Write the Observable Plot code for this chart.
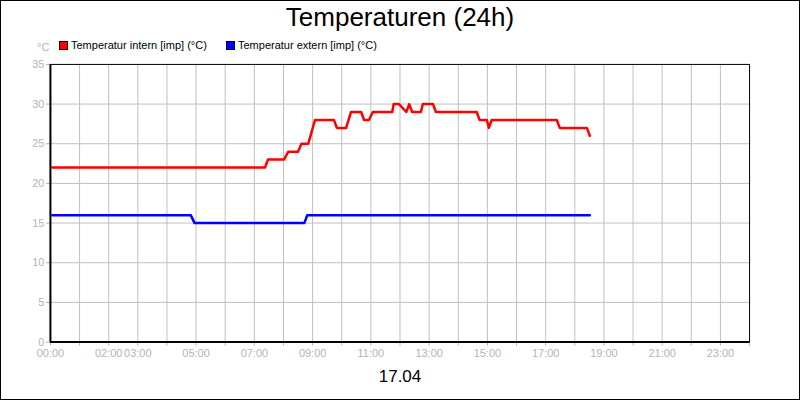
<!DOCTYPE html>
<html><head><meta charset="utf-8">
<script src="https://cdn.jsdelivr.net/npm/d3@7"></script>
<script src="https://cdn.jsdelivr.net/npm/@observablehq/plot@0.6"></script>
<style>
body{margin:0;background:#fff;font-family:"Liberation Sans",Arial,sans-serif}
#c{position:relative;width:800px;height:400px;box-sizing:border-box;border:1px solid #000;overflow:hidden;background:#fff}
#chart{position:absolute;left:-1px;top:-1px}
#title{position:absolute;left:0;top:0px;width:100%;text-align:center;font-size:26px;line-height:32px;color:#000}
#legend{position:absolute;left:0;top:36px;height:16px;width:100%;font-size:11px;line-height:16px;color:#000}
.sw{position:absolute;top:4px;width:7px;height:7px;border:1px solid #000}
.lt{position:absolute;top:0}
#unit{position:absolute;left:36px;top:40px;font-size:11px;color:#b4b4b4}
#date{position:absolute;left:0;width:100%;top:364px;text-align:center;font-size:17px;line-height:24px;color:#000}
</style></head>
<body>
<div id="c">
<div id="chart"></div>
<div id="title">Temperaturen (24h)</div>
<div id="unit">°C</div>
<div id="legend">
 <div class="sw" style="left:58px;background:#ff0000"></div><div class="lt" style="left:70px">Temperatur intern [imp] (°C)</div>
 <div class="sw" style="left:225px;background:#0000ff"></div><div class="lt" style="left:237px">Temperatur extern [imp] (°C)</div>
</div>
<div id="date">17.04</div>
</div>
<script>
const dayLabel = "17.04";
const internTimes = ["00:04","07:22","07:28","08:01","08:10","08:30","08:37","08:51","09:05","09:44","09:50","10:09","10:19","10:40","10:46","10:56","11:04","11:44","11:47","11:58","12:13","12:19","12:25","12:43","12:47","13:08","13:14","14:38","14:44","14:59","15:03","15:09","17:23","17:29","18:25","18:31"];
const internValues = [22,22,23,23,24,24,25,25,28,28,27,27,29,29,28,28,29,29,30,30,29,30,29,29,30,30,29,29,28,28,27,28,28,27,27,26];
const externTimes = ["00:04","04:49","04:57","08:43","08:49","18:31"];
const externValues = [16,16,15,15,16,16];
const yTicks = [0,5,10,15,20,25,30,35];
const xLabelHours = [0,2,3,5,7,9,11,13,15,17,19,21,23];

const t = s => { const [h,m] = s.split(":").map(Number); return new Date(Date.UTC(2024,3,17,h,m)); };
const intern = internTimes.map((s,i)=>({time:t(s), value:internValues[i]}));
const extern = externTimes.map((s,i)=>({time:t(s), value:externValues[i]}));
const x0 = t("00:00"), x1 = new Date(Date.UTC(2024,3,18,0,0));
const hourTicks = d3.utcHour.range(x0, d3.utcHour.offset(x1,1));
const fmt = d3.utcFormat("%H:%M");
const grey = "#b4b4b4";

const plot = Plot.plot({
  width: 800, height: 400,
  marginTop: 64, marginBottom: 58, marginLeft: 50, marginRight: 50,
  style: {background:"transparent", fontFamily:"Liberation Sans, Arial, sans-serif", fontSize:"11px"},
  x: {type:"utc", domain:[x0,x1]},
  y: {domain:[0,35]},
  marks: [
    Plot.ruleX(hourTicks.slice(1,-1), {stroke:"#c0c0c0", strokeWidth:1}),
    Plot.ruleY(yTicks.slice(1,-1), {stroke:"#c0c0c0", strokeWidth:1}),
    Plot.axisY({ticks:yTicks, tickSize:4, tickPadding:2, stroke:grey, color:grey, label:null}),
    Plot.axisX({ticks:hourTicks, tickSize:4, tickPadding:3, stroke:grey, color:grey, label:null,
      tickFormat: d => xLabelHours.includes(d.getUTCHours()) && d < x1 ? fmt(d) : ""}),
    Plot.line(intern, {x:"time", y:"value", stroke:"#ff0000", strokeWidth:2.5}),
    Plot.line(extern, {x:"time", y:"value", stroke:"#0000ff", strokeWidth:2.5}),
    Plot.frame({stroke:"#000", strokeWidth:1}),
    Plot.ruleY([0], {stroke:"#000", strokeWidth:2}),
    Plot.ruleX([x0], {stroke:"#000", strokeWidth:2})
  ]
});
document.getElementById("chart").appendChild(plot);
</script>
</body></html>
